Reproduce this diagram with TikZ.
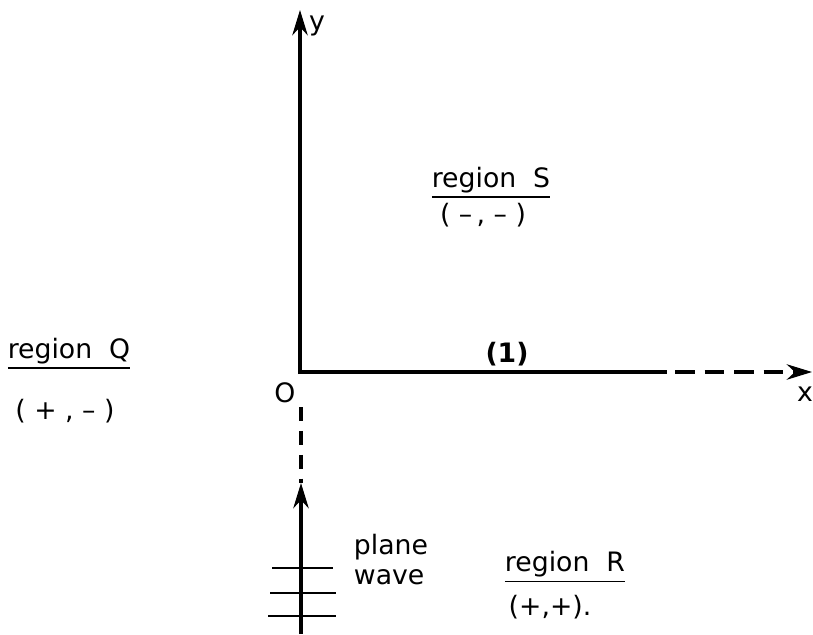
\documentclass[tikz,border=0pt]{standalone}
\usepackage{fontspec}
\setmainfont{DejaVu Sans}
\usetikzlibrary{arrows.meta}

\begin{document}
\begin{tikzpicture}[x=1.25cm, y=1.25cm, font=\fontsize{9.5}{11}\selectfont,
    axis/.style={-{Stealth[length=9pt, width=5.5pt]}, line width=1.1pt},
    wave/.style={line width=0.8pt}]
      \useasboundingbox (0,0) rectangle (8.13,6.34);
      \coordinate (O) at (3.00,2.62);
      \coordinate (ytip) at (3.00,6.24);
      \coordinate (xsolid) at (6.67,2.62);
      \coordinate (xdash) at (6.75,2.62);
      \coordinate (xtip) at (8.12,2.62);
      \coordinate (wbot) at (3.01,0);
      \coordinate (wtip) at (3.01,1.51);
      \coordinate (wdash) at (3.01,2.27);
      % axes
      \draw[axis] (O |- 0,2.60) -- (ytip);
      \draw[line width=1.1pt] (O) -- (xsolid);
      \draw[axis, dash pattern=on 7pt off 3.5pt] (xdash) -- (xtip);
      \node (xlab) at (8.05,2.40) {x};
      \node (ylab) at (3.17,6.08) {y};
      \node (olab) at (2.85,2.41) {O};
      \node (one) at (5.07,2.80) {\textbf{(1)}};
      % incident plane wave
      \draw[line width=1.1pt, dash pattern=on 5pt off 3.5pt] (wdash) -- (wtip);
      \draw[axis] (wbot) -- (wtip);
      \draw[wave] (2.72,0.66) -- (3.33,0.66);
      \draw[wave] (2.70,0.41) -- (3.36,0.41);
      \draw[wave] (2.68,0.18) -- (3.36,0.18);
      \node[right] (plane) at (3.44,0.87) {plane};
      \node[right] (wavelab) at (3.44,0.57) {wave};
      % regions
      \node (regQ) at (0.69,2.80) {\underline{region\ \ Q}};
      \node (signQ) at (0.65,2.23) {( + , -- )};
      \node (regS) at (4.91,4.51) {\underline{region\ \ S}};
      \node (signS) at (4.83,4.19) {( --\,, -- )};
      \node (regR) at (5.65,0.67) {\underline{region\ \ R}};
      \node (signR) at (5.50,0.27) {(+,+).};
    \end{tikzpicture}
\end{document}
